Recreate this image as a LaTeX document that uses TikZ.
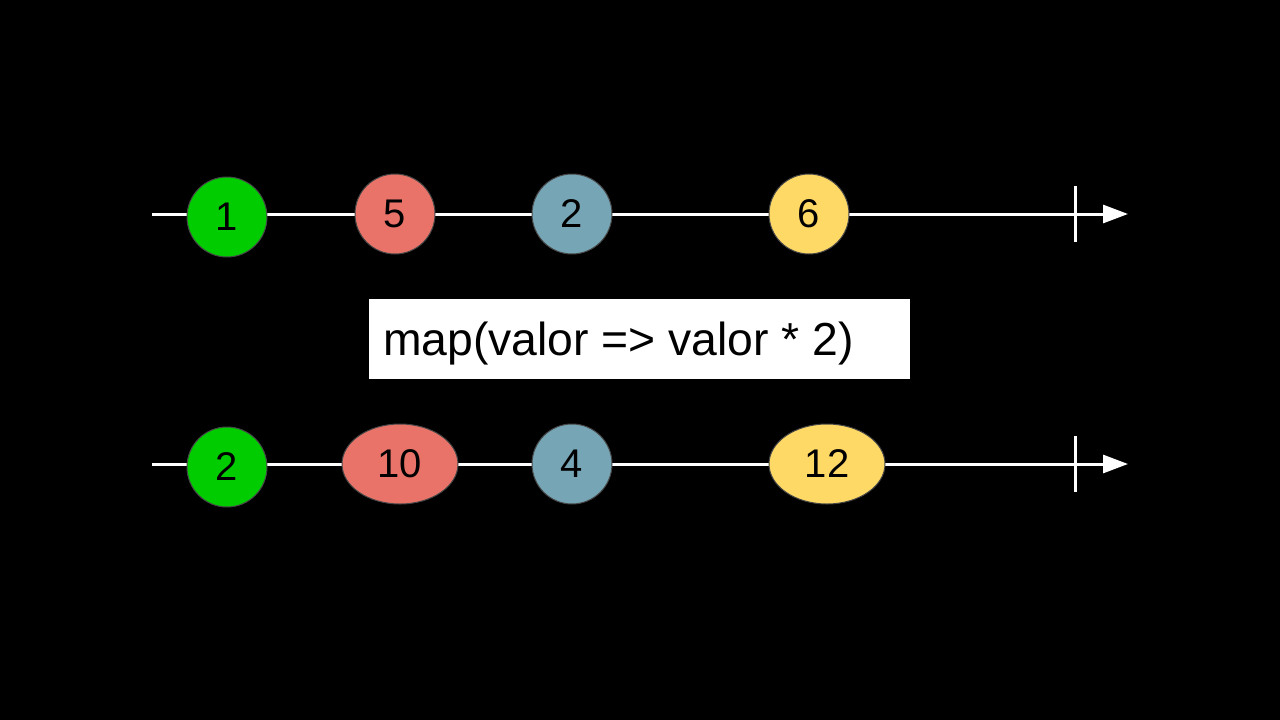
\documentclass[tikz,border=0pt]{standalone}
\usepackage{fontspec}
\setmainfont{Liberation Sans}
\usetikzlibrary{arrows.meta,shapes.geometric}
\definecolor{cgreen}{RGB}{0,204,0}
\definecolor{cred}{RGB}{234,115,105}
\definecolor{cblue}{RGB}{118,165,181}
\definecolor{cyellow}{RGB}{255,217,102}
\definecolor{cborder}{RGB}{70,70,70}
\begin{document}
\begin{tikzpicture}[x=1pt,y=-1pt,
  marble/.style={ellipse,draw=cborder,line width=1pt,inner sep=0pt,minimum width=80pt,minimum height=80pt,font=\fontsize{40}{42}\selectfont,text=black},
  wide/.style={marble,minimum width=116pt},
  timeline/.style={draw=white,line width=3pt,-{Triangle[length=25pt,width=18pt]}},
  tick/.style={draw=white,line width=3pt}]
\fill[black] (0,0) rectangle (1280,720);
\useasboundingbox (0,0) rectangle (1280,720);
% top timeline
\coordinate (s1) at (152,214);
\coordinate (e1) at (1128,214);
\coordinate (t1a) at (1075,186);
\coordinate (t1b) at (1075,242);
\draw[timeline] (s1) -- (e1);
\draw[tick] (t1a) -- (t1b);
\node[marble,fill=cgreen] (a1) at (227,217) {1};
\node[marble,fill=cred] (a2) at (395,214) {5};
\node[marble,fill=cblue] (a3) at (572,214) {2};
\node[marble,fill=cyellow] (a4) at (809,214) {6};
% operator box
\node[fill=white,minimum width=541pt,minimum height=80pt,inner sep=0pt] (op) at (639.5,339) {};
\node[anchor=west,inner sep=0pt,font=\fontsize{46.3}{50}\selectfont,text=black] (optext) at (383,344) {map(valor => valor * 2)};
% bottom timeline
\coordinate (s2) at (152,464);
\coordinate (e2) at (1128,464);
\coordinate (t2a) at (1075,436);
\coordinate (t2b) at (1075,492);
\draw[timeline] (s2) -- (e2);
\draw[tick] (t2a) -- (t2b);
\node[marble,fill=cgreen] (b1) at (227,467) {2};
\node[wide,fill=cred] (b2) at (400,464) {10};
\node[marble,fill=cblue] (b3) at (572,464) {4};
\node[wide,fill=cyellow] (b4) at (827,464) {12};
\end{tikzpicture}
\end{document}
